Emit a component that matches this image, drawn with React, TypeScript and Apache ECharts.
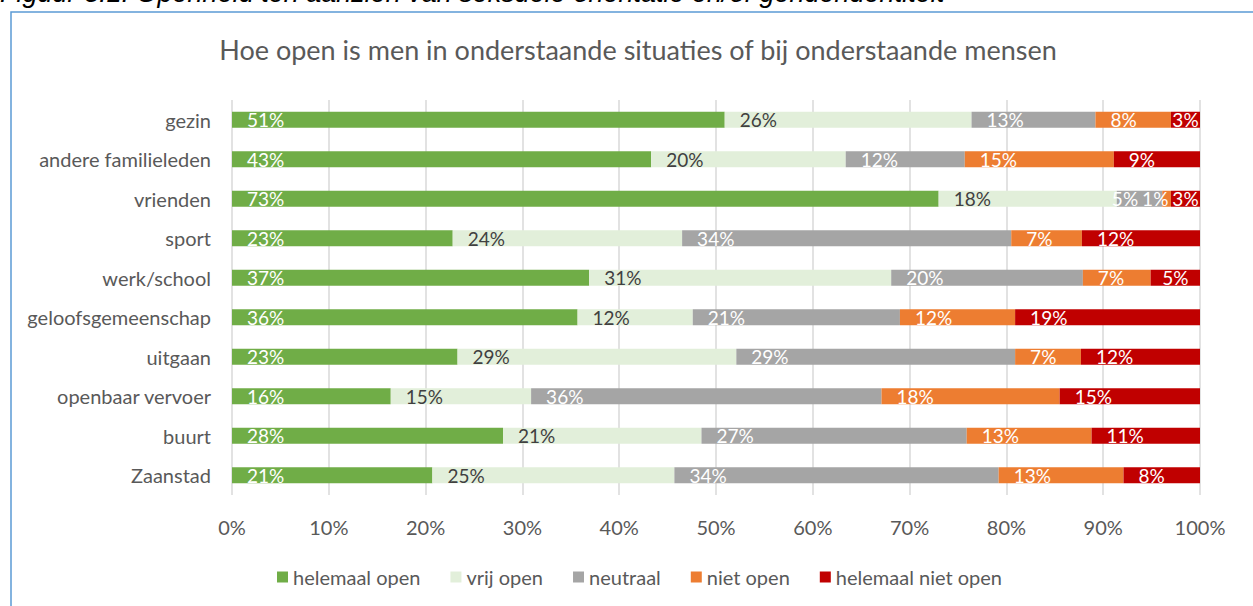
import React, { useEffect, useRef } from 'react';
import * as echarts from 'echarts';

const caption = 'Figuur 3.1: Openheid ten aanzien van seksuele oriëntatie en/of genderidentiteit';
const chartTitle = 'Hoe open is men in onderstaande situaties of bij onderstaande mensen';
const categories = ['gezin', 'andere familieleden', 'vrienden', 'sport', 'werk/school', 'geloofsgemeenschap', 'uitgaan', 'openbaar vervoer', 'buurt', 'Zaanstad'];
const seriesNames = ['helemaal open', 'vrij open', 'neutraal', 'niet open', 'helemaal niet open'];
const helemaalOpen = [50.9, 43.3, 73.0, 22.8, 36.9, 35.7, 23.3, 16.4, 28.0, 20.7];
const vrijOpen = [25.5, 20.1, 18.4, 23.7, 31.2, 11.9, 28.8, 14.5, 20.5, 25.0];
const neutraal = [12.8, 12.3, 4.7, 34.0, 19.8, 21.4, 28.8, 36.2, 27.4, 33.5];
const nietOpen = [7.8, 15.4, 0.9, 7.3, 7.0, 11.9, 6.8, 18.4, 12.9, 12.9];
const helemaalNietOpen = [3.0, 8.9, 3.0, 12.2, 5.1, 19.1, 12.3, 14.5, 11.2, 7.9];
const xMin = 0;
const xMax = 100;
const xInterval = 10;

const COLORS = ['#70AD47', '#E2EFDA', '#A5A5A5', '#ED7D31', '#C00000'];
const LABEL_COLORS = ['#FFFFFF', '#404040', '#FFFFFF', '#FFFFFF', '#FFFFFF'];
const FONT = 'Lato, "Noto Sans", sans-serif';
const TEXT_GREY = '#595959';
const GRID_LEFT = 232;
const GRID_RIGHT_X = 1200;
const LABEL_SIZE = 19;

export default function App() {
  const ref = useRef<HTMLDivElement>(null);
  useEffect(() => {
    if (!ref.current) return;
    const chart = echarts.init(ref.current, null, { renderer: 'svg' });
    const plotW = GRID_RIGHT_X - GRID_LEFT;
    const allValues = [helemaalOpen, vrijOpen, neutraal, nietOpen, helemaalNietOpen];
    const ctx = document.createElement('canvas').getContext('2d');
    const measure = (t: string) => {
      if (!ctx) return t.length * 10;
      ctx.font = `${LABEL_SIZE}px Lato`;
      return ctx.measureText(t).width;
    };
    const offsets = allValues.map(() => categories.map(() => 15));
    categories.forEach((_, r) => {
      let acc = 0;
      const items = allValues.map((vals) => {
        const start = GRID_LEFT + (acc / 100) * plotW;
        const w = (vals[r] / 100) * plotW;
        acc += vals[r];
        const lw = measure(Math.round(vals[r]) + '%');
        const pad = Math.min(15, (w - lw) / 2);
        return { start, lw, x: start + pad };
      });
      for (let i = items.length - 1; i >= 0; i--) {
        const limit = i === items.length - 1 ? GRID_RIGHT_X : items[i + 1].x - 4;
        if (items[i].x + items[i].lw > limit) items[i].x = limit - items[i].lw;
      }
      items.forEach((it, s) => {
        offsets[s][r] = it.x - it.start;
      });
    });

    const series = allValues.map((vals, s) => ({
      name: seriesNames[s],
      type: 'bar',
      stack: 'total',
      barWidth: 16,
      itemStyle: { color: COLORS[s] },
      label: {
        show: true,
        align: 'left',
        verticalAlign: 'middle',
        color: LABEL_COLORS[s],
        fontSize: LABEL_SIZE,
        fontFamily: FONT,
        formatter: (p: any) => Math.round(p.value) + '%',
      },
      emphasis: { disabled: true },
      data: vals.map((v, r) => ({ value: v, label: { position: [offsets[s][r], '50%'] } })),
    }));

    chart.setOption({
      animation: false,
      backgroundColor: '#FFFFFF',
      title: {
        text: chartTitle,
        left: 633,
        textAlign: 'center',
        top: 31,
        textStyle: { color: TEXT_GREY, fontSize: 27, fontWeight: 'normal', fontFamily: FONT },
      },
      graphic: [
        {
          type: 'rect',
          shape: { x: 11, y: 12, width: 1400, height: 800 },
          style: { fill: 'none', stroke: '#5B9BD5', lineWidth: 1.5 },
          silent: true,
        },
        {
          type: 'text',
          x: 0,
          y: -7,
          style: {
            text: caption,
            fill: '#000000',
            font: 'italic 27px "Liberation Sans", Arial, sans-serif',
            textVerticalAlign: 'middle',
          },
          silent: true,
        },
      ],
      legend: {
        data: seriesNames,
        left: 277,
        top: 567,
        padding: 0,
        icon: 'rect',
        itemWidth: 11,
        itemHeight: 11,
        itemGap: 30,
        textStyle: { color: TEXT_GREY, fontSize: 20, fontFamily: FONT },
      },
      grid: { left: GRID_LEFT, right: 1253 - GRID_RIGHT_X, top: 100, bottom: 111, outerBoundsMode: 'none' },
      xAxis: {
        type: 'value',
        min: xMin,
        max: xMax,
        interval: xInterval,
        axisLine: { show: false },
        axisTick: { show: false },
        splitLine: { lineStyle: { color: '#D9D9D9', width: 1.5 } },
        axisLabel: { formatter: '{value}%', color: TEXT_GREY, fontSize: 20, fontFamily: FONT, margin: 22 },
      },
      yAxis: {
        type: 'category',
        data: categories,
        inverse: true,
        axisLine: { show: false },
        axisTick: { show: false },
        axisLabel: { color: TEXT_GREY, fontSize: 20, fontFamily: FONT, margin: 21 },
      },
      series,
    });
    return () => chart.dispose();
  }, []);
  return <div ref={ref} style={{ position: 'fixed', left: 0, top: 0, width: 1253, height: 606 }} />;
}
